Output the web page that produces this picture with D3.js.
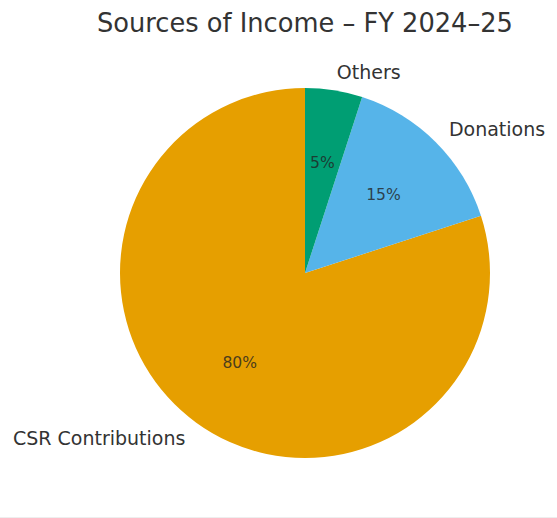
<!DOCTYPE html>
<html><head><meta charset="utf-8">
<script src="https://cdn.jsdelivr.net/npm/d3@7"></script>
<style>body{margin:0;background:#fff}svg{display:block}text{font-family:"DejaVu Sans",sans-serif}</style>
</head><body>
<svg id="c" width="557" height="518"></svg>
<script>
const categories = ["CSR Contributions", "Donations", "Others"];
const values = [80, 15, 5];
const colors = ["#E69F00", "#56B4E9", "#009E73"];
const title = "Sources of Income – FY 2024–25";

const W = 557, H = 518, cx = 305, cy = 273, R = 185;
const svg = d3.select("#c");
svg.append("text").attr("x", cx).attr("y", 23).attr("text-anchor", "middle")
  .attr("dominant-baseline", "central").attr("font-size", 25.7).attr("fill", "#333").text(title);

const data = categories.map((c, i) => ({c, v: values[i], col: colors[i]}));
// matplotlib style: start at top, counter-clockwise
const pie = d3.pie().value(d => d.v).sort(null).startAngle(0).endAngle(-2 * Math.PI);
const arcs = pie(data);
const arc = d3.arc().innerRadius(0).outerRadius(R);
const g = svg.append("g").attr("transform", `translate(${cx},${cy})`);
g.selectAll("path").data(arcs).join("path").attr("d", arc).attr("fill", d => d.data.col);

function pos(d, k) {
  const a = (d.startAngle + d.endAngle) / 2;
  return [Math.sin(a) * R * k, -Math.cos(a) * R * k];
}
const total = d3.sum(values);
g.selectAll("text.lab").data(arcs).join("text").attr("class", "lab")
  .attr("x", d => pos(d, 1.1)[0]).attr("y", d => pos(d, 1.1)[1])
  .attr("text-anchor", d => pos(d, 1.1)[0] < 0 ? "end" : "start")
  .attr("dominant-baseline", "central").attr("font-size", 19).attr("fill", "#333")
  .text(d => d.data.c);
g.selectAll("text.pct").data(arcs).join("text").attr("class", "pct")
  .attr("x", d => pos(d, 0.6)[0]).attr("y", d => pos(d, 0.6)[1])
  .attr("text-anchor", "middle").attr("dominant-baseline", "central")
  .attr("font-size", 15.6).attr("fill", "#222").attr("fill-opacity", 0.8)
  .text(d => Math.round(d.data.v / total * 100) + "%");
svg.append("line").attr("x1", 0).attr("x2", W).attr("y1", H - 0.5).attr("y2", H - 0.5).attr("stroke", "#eee");
</script>
</body></html>
